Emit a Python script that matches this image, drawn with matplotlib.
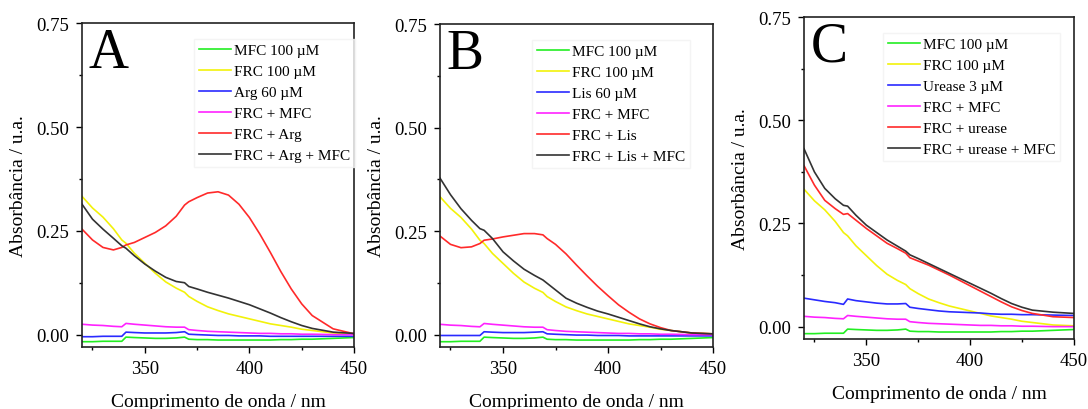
import matplotlib
matplotlib.use("Agg")
import matplotlib.pyplot as plt
from matplotlib.ticker import MultipleLocator

# wavelength grid (nm)
wl = [320, 325, 330, 335, 339, 341, 345, 350, 355, 360, 365, 369, 371, 375,
      380, 385, 390, 395, 400, 405, 410, 415, 420, 425, 430, 440, 450]

# common spectra (same in all panels)
mfc = [-0.017, -0.017, -0.016, -0.016, -0.016, -0.006, -0.007, -0.008, -0.009, -0.009,
       -0.008, -0.006, -0.011, -0.012, -0.012, -0.013, -0.013, -0.013, -0.013, -0.013,
       -0.013, -0.012, -0.012, -0.011, -0.011, -0.009, -0.007]
frc = [0.333, 0.305, 0.283, 0.255, 0.228, 0.220, 0.196, 0.172, 0.148, 0.127,
       0.112, 0.102, 0.092, 0.080, 0.067, 0.058, 0.050, 0.044, 0.038, 0.032,
       0.026, 0.022, 0.018, 0.013, 0.010, 0.004, 0.002]
frc_mfc = [0.025, 0.023, 0.022, 0.020, 0.019, 0.027, 0.025, 0.023, 0.021, 0.019,
           0.018, 0.018, 0.012, 0.010, 0.008, 0.007, 0.006, 0.005, 0.004, 0.003,
           0.003, 0.002, 0.002, 0.001, 0.001, 0.000, 0.000]

# panel A - arginine
arg = [-0.005, -0.005, -0.004, -0.004, -0.004, 0.006, 0.005, 0.004, 0.004, 0.004,
       0.005, 0.007, 0.001, 0.000, -0.001, -0.002, -0.002, -0.003, -0.003, -0.003,
       -0.004, -0.004, -0.004, -0.004, -0.004, -0.004, -0.004]
frc_arg = [0.254, 0.228, 0.210, 0.204, 0.210, 0.216, 0.222, 0.234, 0.246, 0.262,
           0.285, 0.312, 0.320, 0.330, 0.341, 0.344, 0.336, 0.314, 0.282, 0.242,
           0.198, 0.152, 0.110, 0.074, 0.046, 0.014, 0.002]
frc_arg_mfc = [0.314, 0.278, 0.254, 0.232, 0.214, 0.208, 0.190, 0.170, 0.153, 0.138,
               0.128, 0.125, 0.116, 0.110, 0.102, 0.095, 0.088, 0.080, 0.072, 0.062,
               0.052, 0.041, 0.031, 0.022, 0.015, 0.006, 0.003]

# panel B - lysine
lis = [-0.002, -0.002, -0.002, -0.002, -0.002, 0.007, 0.006, 0.005, 0.005, 0.005,
       0.006, 0.007, 0.002, 0.001, 0.000, -0.001, -0.001, -0.002, -0.002, -0.002,
       -0.003, -0.003, -0.003, -0.003, -0.003, -0.003, -0.003]
frc_lis = [0.238, 0.218, 0.210, 0.212, 0.220, 0.228, 0.231, 0.236, 0.240, 0.244,
           0.244, 0.241, 0.232, 0.218, 0.195, 0.168, 0.142, 0.117, 0.094, 0.072,
           0.054, 0.038, 0.026, 0.017, 0.010, 0.004, 0.002]
frc_lis_mfc = [0.378, 0.338, 0.304, 0.276, 0.256, 0.252, 0.232, 0.200, 0.178, 0.158,
               0.143, 0.132, 0.124, 0.108, 0.088, 0.076, 0.066, 0.057, 0.050, 0.042,
               0.034, 0.026, 0.019, 0.014, 0.010, 0.004, 0.002]

# panel C - urease
ure = [0.069, 0.065, 0.061, 0.058, 0.054, 0.067, 0.063, 0.060, 0.057, 0.055,
       0.055, 0.056, 0.047, 0.044, 0.041, 0.038, 0.036, 0.035, 0.034, 0.033,
       0.031, 0.030, 0.030, 0.029, 0.029, 0.028, 0.027]
frc_ure = [0.390, 0.343, 0.306, 0.286, 0.272, 0.274, 0.258, 0.238, 0.220, 0.202,
           0.189, 0.178, 0.167, 0.159, 0.149, 0.137, 0.125, 0.112, 0.099, 0.086,
           0.073, 0.060, 0.048, 0.039, 0.032, 0.024, 0.022]
frc_ure_mfc = [0.431, 0.375, 0.335, 0.310, 0.294, 0.292, 0.270, 0.246, 0.228, 0.210,
               0.195, 0.183, 0.174, 0.165, 0.153, 0.141, 0.129, 0.117, 0.105, 0.093,
               0.081, 0.068, 0.056, 0.047, 0.040, 0.035, 0.032]

colors = ['#22ee22', '#f2f20a', '#2a2aff', '#ff22ff', '#ff2a2a', '#333333']

panels = [
    ('A', [0.0754, 0.151, 0.250, 0.790], 0.385,
     [mfc, frc, arg, frc_mfc, frc_arg, frc_arg_mfc],
     ['MFC 100 µM', 'FRC 100 µM', 'Arg 60 µM', 'FRC + MFC', 'FRC + Arg', 'FRC + Arg + MFC']),
    ('B', [0.4044, 0.151, 0.251, 0.788], 0.31,
     [mfc, frc, lis, frc_mfc, frc_lis, frc_lis_mfc],
     ['MFC 100 µM', 'FRC 100 µM', 'Lis 60 µM', 'FRC + MFC', 'FRC + Lis', 'FRC + Lis + MFC']),
    ('C', [0.739, 0.1707, 0.248, 0.785], 0.265,
     [mfc, frc, ure, frc_mfc, frc_ure, frc_ure_mfc],
     ['MFC 100 µM', 'FRC 100 µM', 'Urease 3 µM', 'FRC + MFC', 'FRC + urease', 'FRC + urease + MFC']),
]

plt.rcParams['font.family'] = ['Liberation Serif', 'DejaVu Serif']

fig = plt.figure(figsize=(10.88, 4.10), dpi=100)

for letter, rect, leg_x, series, labels in panels:
    ax = fig.add_axes(rect)
    for ys, c, lab in zip(series, colors, labels):
        ax.plot(wl, ys, color=c, lw=1.2, label=lab)
    ax.set_xlim(320, 450)
    ax.set_ylim(-0.03, 0.75)
    ax.xaxis.set_major_locator(MultipleLocator(50))
    ax.xaxis.set_minor_locator(MultipleLocator(25))
    ax.yaxis.set_major_locator(MultipleLocator(0.25))
    ax.yaxis.set_minor_locator(MultipleLocator(0.125))
    ax.yaxis.set_major_formatter(matplotlib.ticker.FormatStrFormatter('%.2f'))
    ax.tick_params(which='major', direction='out', length=4, width=1, labelsize=13.5, pad=5)
    ax.tick_params(which='minor', direction='out', length=2.5, width=1)
    for sp in ax.spines.values():
        sp.set_linewidth(1.2)
        sp.set_color('#222222')
    ax.set_xlabel('Comprimento de onda / nm', fontsize=14, labelpad=12)
    ax.set_ylabel('Absorbância / u.a.', fontsize=14, labelpad=7)
    ax.text(0.025, 0.865, letter, transform=ax.transAxes, fontsize=40, va='baseline')
    ax.legend(loc='upper left', bbox_to_anchor=(leg_x, 0.975), fontsize=11,
              frameon=True, facecolor='white', edgecolor='#f2f2f2', fancybox=False,
              handlelength=2.1, handletextpad=0.2, labelspacing=0.48, borderpad=0.3)

plt.savefig('out.png', dpi=100)
